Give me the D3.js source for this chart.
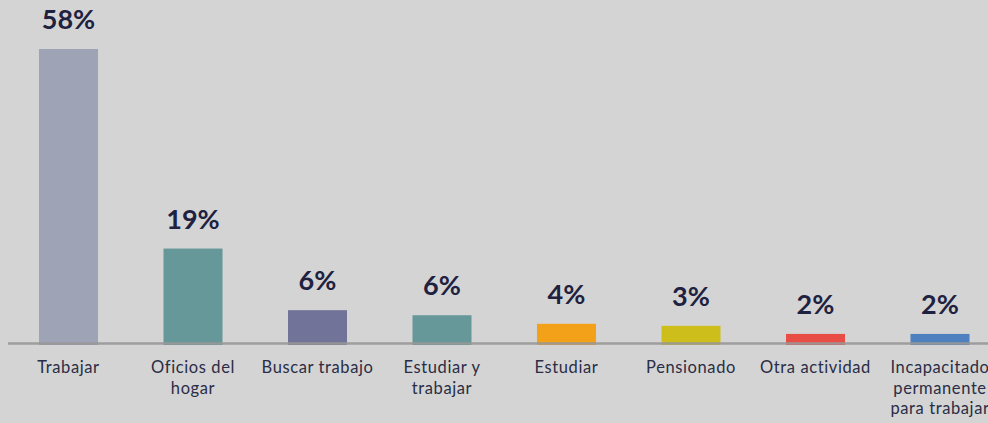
<!DOCTYPE html>
<html><head><meta charset="utf-8">
<script src="https://cdn.jsdelivr.net/npm/d3@7/dist/d3.min.js"></script>
<style>
html,body{margin:0;padding:0;background:#d4d4d4;overflow:hidden;}
svg{display:block;}
</style></head>
<body>
<svg id="chart" width="988" height="423"></svg>
<script>
const categories = ["Trabajar","Oficios del\nhogar","Buscar trabajo","Estudiar y\ntrabajar","Estudiar","Pensionado","Otra actividad","Incapacitado\npermanente\npara trabajar"];
const values = [58, 18.5, 6.3, 5.3, 3.6, 3.2, 1.6, 1.6];
const valueLabels = ["58%","19%","6%","6%","4%","3%","2%","2%"];
const colors = ["#9ea3b5","#66989a","#727399","#66989a","#f4a11a","#cdbe1c","#e84e45","#4f80bf"];

const svg = d3.select("#chart");
const W = 988, H = 423;
const x = d3.scaleBand().domain(categories).range([6.25, 1002.25]).paddingInner(0.526).paddingOuter(0.263);
const y = d3.scaleLinear().domain([0, 58]).range([342, 49]);

svg.append("rect").attr("width", W).attr("height", H).attr("fill", "#d4d4d4");

svg.selectAll("rect.bar").data(values).join("rect")
  .attr("class","bar")
  .attr("x", (d,i) => x(categories[i]))
  .attr("width", x.bandwidth())
  .attr("y", d => y(d))
  .attr("height", d => y(0) - y(d) + 3)
  .attr("fill", (d,i) => colors[i]);

svg.append("line")
  .attr("x1", 8).attr("x2", W)
  .attr("y1", y(0) + 1.5).attr("y2", y(0) + 1.5)
  .attr("stroke", "#989898").attr("stroke-width", 2.5).attr("stroke-opacity", 0.9);

svg.selectAll("text.val").data(values).join("text")
  .attr("class","val")
  .attr("x", (d,i) => x(categories[i]) + x.bandwidth()/2)
  .attr("y", d => y(d) - 20)
  .attr("text-anchor","middle")
  .attr("font-family","Lato, sans-serif")
  .attr("font-weight","bold")
  .attr("font-size", 27)
  .attr("fill","#1e2240")
  .text((d,i) => valueLabels[i]);

const xAxis = d3.axisBottom(x).tickSize(0).tickPadding(0).tickFormat("");
const ax = svg.append("g").attr("transform", `translate(0,${y(0)})`).call(xAxis);
ax.select(".domain").remove();
ax.selectAll(".tick").each(function(d){
  const t = d3.select(this).append("text")
    .attr("text-anchor","middle")
    .attr("font-family","Lato, sans-serif")
    .attr("font-size", 16.5)
    .attr("letter-spacing", "0.6px")
    .attr("fill","#2a2d45");
  d.split("\n").forEach((line, j) => {
    t.append("tspan").attr("x", 0).attr("y", 31 + j*20.5).text(line);
  });
});
</script>
</body></html>
